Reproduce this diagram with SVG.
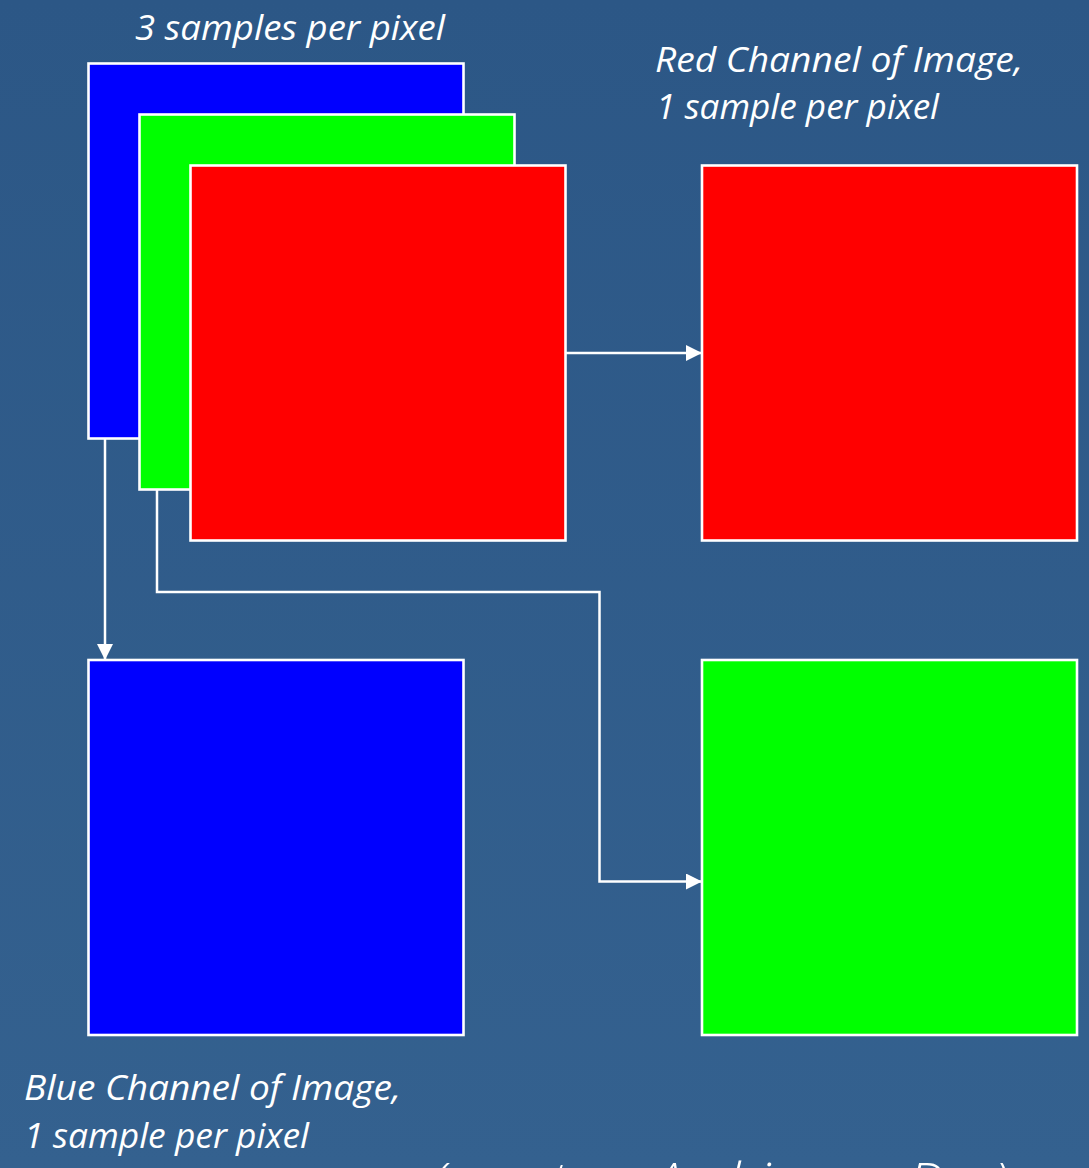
<svg xmlns="http://www.w3.org/2000/svg" width="1089" height="1168" viewBox="0 0 1089 1168">
  <defs>
    <linearGradient id="bg" x1="0" y1="0" x2="0" y2="1">
      <stop offset="0" stop-color="#2c5786"/>
      <stop offset="1" stop-color="#34618f"/>
    </linearGradient>
    <marker id="arrow" markerUnits="userSpaceOnUse" markerWidth="17" markerHeight="17" refX="16" refY="8" orient="auto">
      <path d="M0,0 L16,8 L0,16 Z" fill="#ffffff"/>
    </marker>
    <style>
      .box { stroke: #ffffff; stroke-width: 2.6; }
      .red { fill: #ff0000; }
      .green { fill: #00ff00; }
      .blue { fill: #0000ff; }
      .link { fill: none; stroke: #ffffff; stroke-width: 2.5; marker-end: url(#arrow); }
      .label { font-family: "Open Sans", "Liberation Sans", sans-serif; font-style: italic; font-size: 35px; fill: #ffffff; }
      .credit { font-family: "Open Sans", "Liberation Sans", sans-serif; font-style: italic; font-weight: 300; font-size: 48px; fill: #ffffff; }
    </style>
  </defs>

  <rect x="0" y="0" width="1089" height="1168" fill="url(#bg)"/>

  <!-- stacked three-sample image -->
  <g id="rgb-blue"><rect class="box blue" x="88.5" y="63.5" width="375" height="375"/></g>
  <g id="rgb-green"><rect class="box green" x="139.5" y="114.5" width="375" height="375"/></g>
  <g id="rgb-red"><rect class="box red" x="190.5" y="165.5" width="375" height="375"/></g>

  <!-- single channel images -->
  <g id="red-channel"><rect class="box red" x="702" y="165.5" width="375" height="375"/></g>
  <g id="green-channel"><rect class="box green" x="702" y="660" width="375" height="375"/></g>
  <g id="blue-channel"><rect class="box blue" x="88.5" y="660" width="375" height="375"/></g>

  <!-- connectors -->
  <g id="connectors">
    <path class="link" d="M566,353 H702"/>
    <path class="link" d="M105,439 V660"/>
    <path class="link" d="M157,490 V592 H599.5 V881.5 H702"/>
  </g>

  <!-- labels -->
  <g id="labels">
    <text class="label" x="135" y="40" textLength="310" lengthAdjust="spacingAndGlyphs">3 samples per pixel</text>
    <text class="label" x="655" y="72" textLength="368" lengthAdjust="spacingAndGlyphs">Red Channel of Image,</text>
    <text class="label" x="656" y="119" textLength="283" lengthAdjust="spacingAndGlyphs">1 sample per pixel</text>
    <text class="label" x="24" y="1100" textLength="377" lengthAdjust="spacingAndGlyphs">Blue Channel of Image,</text>
    <text class="label" x="24" y="1148" textLength="285" lengthAdjust="spacingAndGlyphs">1 sample per pixel</text>
    <text class="credit" x="432" y="1197" textLength="576" lengthAdjust="spacingAndGlyphs">(courtesy Archive on Dev)</text>
  </g>
</svg>
